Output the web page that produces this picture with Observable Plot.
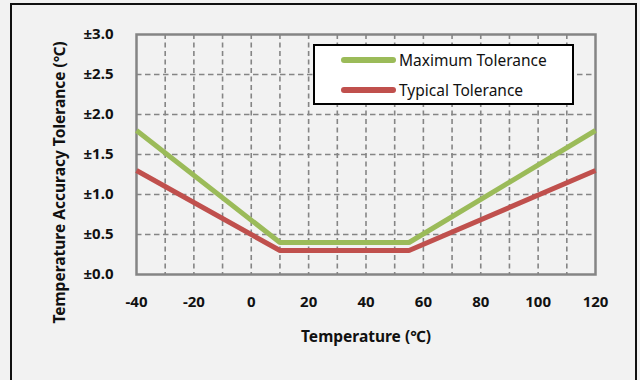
<!DOCTYPE html>
<html>
<head>
<meta charset="utf-8">
<script src="https://cdn.jsdelivr.net/npm/d3@7"></script>
<script src="https://cdn.jsdelivr.net/npm/@observablehq/plot@0.6"></script>
<style>
  html, body { margin: 0; padding: 0; background: #f2f2f2; overflow: hidden; }
  #wrap { position: relative; width: 640px; height: 380px; }
  #border { position: absolute; left: 10px; top: 3px; width: 627px; height: 400px; border: 2px solid #111; box-sizing: border-box; }
  #chart { position: absolute; left: 0; top: 0; }
  #legend { position: absolute; left: 313px; top: 44px; width: 261px; height: 61px; box-sizing: border-box;
            border: 2px solid #000; background: #fff; font-family: "Noto Sans", sans-serif; font-size: 15.5px; color: #111; }
  .item { position: absolute; left: 26px; height: 20px; display: flex; align-items: center; white-space: nowrap; }
  .swatch { width: 55px; height: 6px; border-radius: 3px; margin-right: 3px; }
</style>
</head>
<body>
<div id="wrap">
  <div id="border"></div>
  <div id="chart"></div>
  <div id="legend"></div>
</div>
<script>
// Data
const temps = [-40, 10, 55, 120];
const maxTolerance = [1.8, 0.4, 0.4, 1.8];
const typTolerance = [1.3, 0.3, 0.3, 1.3];
const seriesNames = ["Maximum Tolerance", "Typical Tolerance"];
const seriesColors = ["#9bbb59", "#c0504d"];
const xTicks = [-40, -20, 0, 20, 40, 60, 80, 100, 120];
const yTicks = [0, 0.5, 1.0, 1.5, 2.0, 2.5, 3.0];
const xGrid = [-30, -20, -10, 0, 10, 20, 30, 40, 50, 60, 70, 80, 90, 100, 110];
const yGrid = [0.5, 1.0, 1.5, 2.0, 2.5];
const xTitle = "Temperature (℃)";
const yTitle = "Temperature Accuracy Tolerance (℃)";

const rows = [];
temps.forEach((t, i) => rows.push({series: seriesNames[0], t, v: maxTolerance[i]}));
temps.forEach((t, i) => rows.push({series: seriesNames[1], t, v: typTolerance[i]}));

const font = '"Noto Sans", sans-serif';
const plot = Plot.plot({
  width: 640,
  height: 380,
  marginLeft: 136,
  marginRight: 45,
  marginTop: 34,
  marginBottom: 106,
  style: {background: "transparent", fontFamily: font, fontSize: "15px", fontWeight: "bold", color: "#111"},
  x: {domain: [-40, 120]},
  y: {domain: [0, 3]},
  color: {domain: seriesNames, range: seriesColors},
  marks: [
    Plot.gridX(xGrid, {stroke: "#858585", strokeOpacity: 1, strokeWidth: 1.6, strokeDasharray: "5,3.5"}),
    Plot.gridY(yGrid, {stroke: "#858585", strokeOpacity: 1, strokeWidth: 1.6, strokeDasharray: "5.5,3.5"}),
    Plot.frame({stroke: "#858585", strokeWidth: 2.5}),
    Plot.line(rows, {x: "t", y: "v", z: "series", stroke: "series", strokeWidth: 5, strokeLinejoin: "miter", strokeLinecap: "butt"}),
    Plot.axisX({ticks: xTicks, tickSize: 0, tickPadding: 22, tickFormat: d => String(d), label: null}),
    Plot.axisY({ticks: yTicks, tickSize: 0, tickPadding: 23, tickFormat: d => "±" + d.toFixed(1), label: null}),
    Plot.text([xTitle], {frameAnchor: "bottom", textAnchor: "middle", lineAnchor: "middle", dy: 63,
      text: d => d, fontSize: 15.5, fontWeight: "bold", fill: "#111"}),
    Plot.text([yTitle], {frameAnchor: "left", textAnchor: "middle", lineAnchor: "middle", rotate: -90, dx: -76, dy: 28,
      text: d => d, fontSize: 15.5, fontWeight: "bold", fill: "#111"})
  ]
});
document.getElementById("chart").appendChild(plot);

const legend = document.getElementById("legend");
seriesNames.forEach((name, i) => {
  const item = document.createElement("div");
  item.className = "item";
  item.style.top = (i === 0 ? 4 : 34) + "px";
  const sw = document.createElement("div");
  sw.className = "swatch";
  sw.style.background = seriesColors[i];
  const label = document.createElement("span");
  label.textContent = name;
  item.appendChild(sw);
  item.appendChild(label);
  legend.appendChild(item);
});
</script>
</body>
</html>
